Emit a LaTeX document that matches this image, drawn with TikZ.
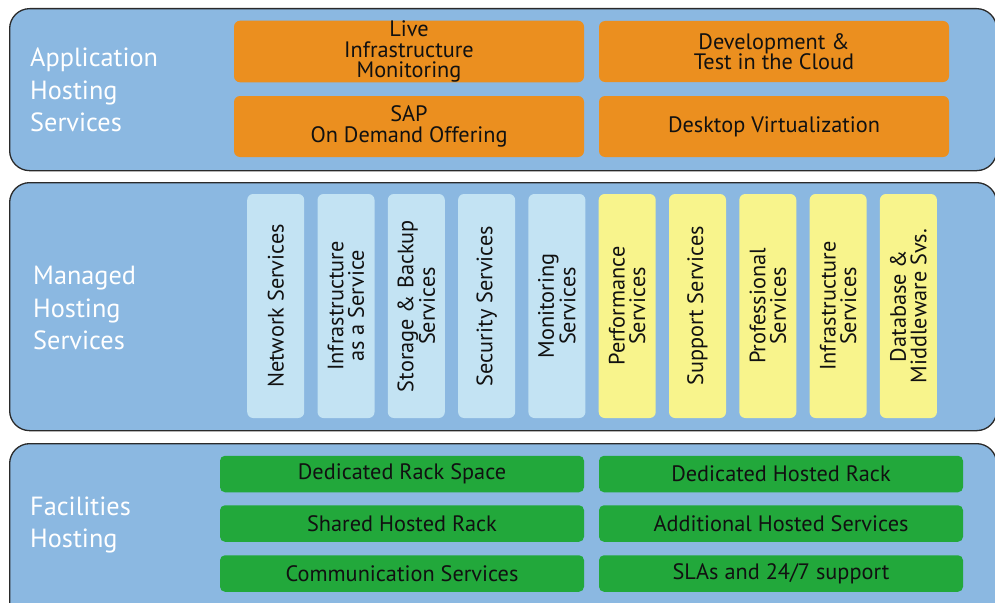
\documentclass[tikz,border=0pt]{standalone}
\usepackage{fontspec}
\setmainfont{PT Sans}
\definecolor{panelblue}{HTML}{8BB8E1}
\definecolor{panelline}{HTML}{2A2A2A}
\definecolor{orangebox}{HTML}{EB8F1F}
\definecolor{lightbox}{HTML}{C3E3F3}
\definecolor{yellowbox}{HTML}{F8F48C}
\definecolor{greenbox}{HTML}{22A83B}
\definecolor{boxtext}{HTML}{111111}
\begin{document}
\begin{tikzpicture}[x=1pt,y=-1pt,
  panel/.style={draw=panelline, line width=1.3pt, fill=panelblue, rounded corners=20pt,
    anchor=north west, inner sep=0pt},
  paneltitle/.style={anchor=west, text=white, align=left, inner sep=0pt,
    font=\fontsize{26.3}{32.5}\selectfont},
  obox/.style={fill=orangebox, rounded corners=6pt, minimum width=350pt, minimum height=61pt,
    inner sep=0pt, align=center, text=boxtext, font=\fontsize{22.3}{20.5}\selectfont},
  vbox/.style={fill=#1, rounded corners=6pt, minimum width=57pt, minimum height=224pt,
    inner sep=0pt},
  vtext/.style={rotate=90, align=center, text=boxtext, inner sep=0pt,
    font=\fontsize{22.3}{20.5}\selectfont},
  gbox/.style={fill=greenbox, rounded corners=5pt, minimum width=364pt, minimum height=36.5pt,
    inner sep=0pt, text=boxtext, font=\fontsize{22.3}{22}\selectfont}
]
\useasboundingbox (0,0) rectangle (995,602);
\clip (0,0) rectangle (995,602);

% panels
\node[panel, minimum width=987pt, minimum height=162pt] (p1) at (9,8) {};
\node[panel, minimum width=987pt, minimum height=248pt] (p2) at (9,182) {};
\node[panel, minimum width=987pt, minimum height=190pt] (p3) at (9,443) {};

\node[paneltitle] (t1) at (30,90) {Application\\Hosting\\Services};
\node[paneltitle] (t2) at (33,308) {Managed\\Hosting\\Services};
\node[paneltitle] (t3) at (30,525) {Facilities\\Hosting};

% application boxes
\node[obox] (a1) at (409,51.5) {Live\\Infrastructure\\Monitoring};
\node[obox] (a2) at (774,51.5) {Development \&\\Test in the Cloud};
\node[obox] (a3) at (409,126.5) {SAP\\On Demand Offering};
\node[obox] (a4) at (774,126.5) {Desktop Virtualization};

% managed boxes
\foreach \i/\c/\t in {0/lightbox/{Network Services},
                      1/lightbox/{Infrastructure\\as a Service},
                      2/lightbox/{Storage \& Backup\\Services},
                      3/lightbox/{Security Services},
                      4/lightbox/{Monitoring\\Services},
                      5/yellowbox/{Performance\\Services},
                      6/yellowbox/{Support Services},
                      7/yellowbox/{Professional\\Services},
                      8/yellowbox/{Infrastructure\\Services},
                      9/yellowbox/{Database \&\\Middleware Svs.}} {
  \node[vbox=\c] (m\i) at ({275.7+70.3*\i},306) {};
  \node[vtext] (mt\i) at (m\i) {\t};
}

% facilities boxes
\node[gbox] (f1) at (402,474) {Dedicated Rack Space};
\node[gbox] (f2) at (781,474) {Dedicated Hosted Rack};
\node[gbox] (f3) at (402,523.5) {Shared Hosted Rack};
\node[gbox] (f4) at (781,523.5) {Additional Hosted Services};
\node[gbox] (f5) at (402,573.5) {Communication Services};
\node[gbox] (f6) at (781,573.5) {SLAs and 24/7 support};
\end{tikzpicture}
\end{document}
